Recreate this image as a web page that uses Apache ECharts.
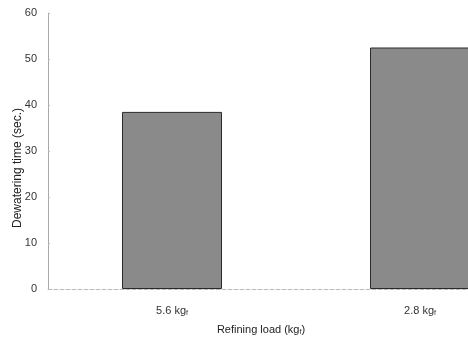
<!DOCTYPE html>
<html><head><meta charset="utf-8">
<script src="https://cdn.jsdelivr.net/npm/echarts@6/dist/echarts.min.js"></script>
<style>html,body{margin:0;padding:0;background:#fff}#c{width:468px;height:339px}</style>
</head><body><div id="c"></div>
<script>
const categories = ['5.6 kg{s|f}', '2.8 kg{s|f}'];
const dewateringTime = [38.5, 52.5];
const yTicks = [0, 10, 20, 30, 40, 50, 60];

const chart = echarts.init(document.getElementById('c'), null, {renderer: 'canvas'});
chart.setOption({
  animation: false,
  backgroundColor: '#fff',
  title: {
    text: 'Refining load (kg{s|f})',
    left: 261, top: 323, textAlign: 'center', padding: 0,
    textStyle: {
      fontFamily: 'Liberation Sans', fontSize: 11, fontWeight: 'normal', color: '#222',
      rich: { s: { fontSize: 7, verticalAlign: 'bottom', padding: [6, 0, 0, 0], fontFamily: 'Liberation Sans', color: '#222' } }
    }
  },
  grid: { left: 48, top: 13, width: 496, height: 276, outerBoundsMode: 'none', containLabel: false },
  xAxis: {
    type: 'category', data: categories, boundaryGap: true,
    axisLine: { show: true, lineStyle: { color: '#bbb', type: 'dashed', width: 1 } },
    axisTick: { show: false },
    axisLabel: {
      margin: 15, fontFamily: 'Liberation Sans', fontSize: 11, color: '#333',
      rich: { s: { fontSize: 7, verticalAlign: 'bottom', padding: [6, 0, 0, 0], fontFamily: 'Liberation Sans', color: '#333' } }
    }
  },
  yAxis: {
    type: 'value', min: 0, max: 60, interval: 10,
    name: 'Dewatering time (sec.)', nameLocation: 'middle', nameGap: 24, nameRotate: 90,
    nameMoveOverlap: false,
    nameTextStyle: { fontFamily: 'Liberation Sans', fontSize: 12, color: '#222', padding: [0, 34, 0, 0] },
    axisLine: { show: true, lineStyle: { color: '#aaa', width: 1 } },
    axisTick: { show: true, inside: true, length: 2, lineStyle: { color: '#bbb' } },
    splitLine: { show: false },
    axisLabel: {
      margin: 11, fontFamily: 'Liberation Sans', fontSize: 11, color: '#333',
      formatter: v => yTicks.includes(v) ? String(v) : ''
    }
  },
  series: [{
    type: 'bar', data: dewateringTime, barWidth: 100,
    itemStyle: { color: '#8a8a8a', borderColor: '#2a2a2a', borderWidth: 1 }
  }]
});
</script></body></html>
